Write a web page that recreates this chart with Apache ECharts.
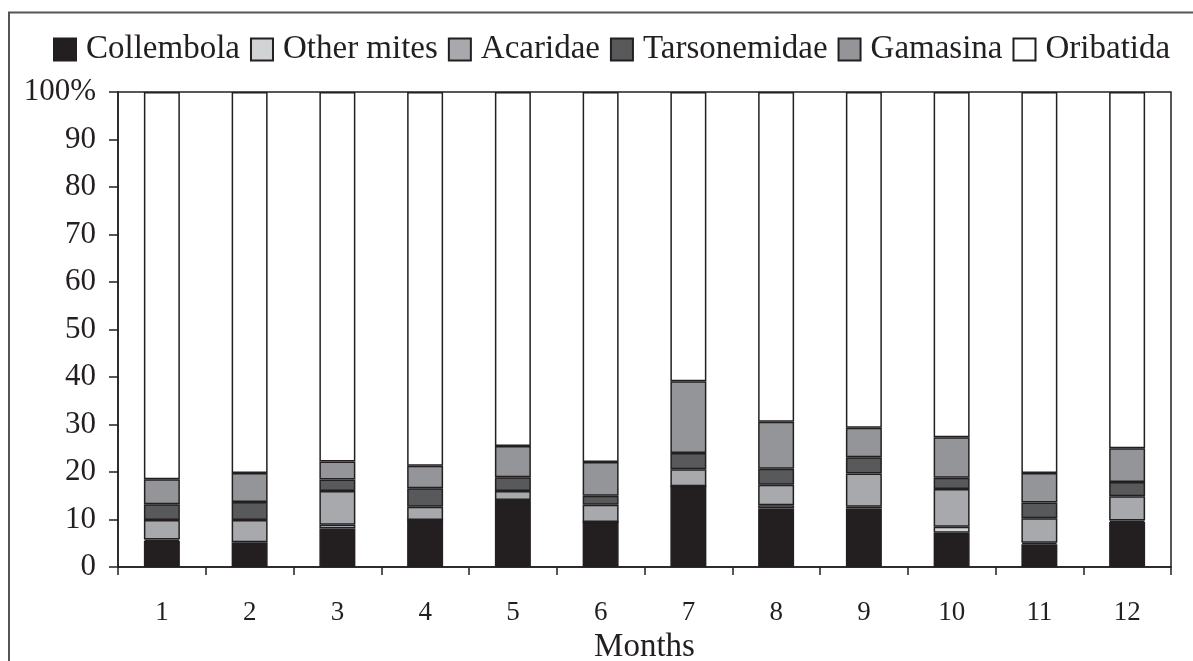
<!DOCTYPE html>
<html>
<head>
<meta charset="utf-8">
<script src="https://cdn.jsdelivr.net/npm/echarts@6/dist/echarts.min.js"></script>
<style>
  html, body { margin: 0; padding: 0; background: #fff; }
  #chart { width: 1193px; height: 661px; }
</style>
</head>
<body>
<div id="chart"></div>
<script>
  const months = ['1', '2', '3', '4', '5', '6', '7', '8', '9', '10', '11', '12'];
  const collembola = [5.5, 4.85, 8.1, 9.9, 13.7, 9.5, 17.0, 12.3, 12.3, 7.2, 4.8, 9.5];
  const otherMites = [0.3, 0.35, 0.8, 0, 0.4, 0, 0, 0.7, 0.4, 1.3, 0.3, 0.3];
  const acaridae = [4.1, 4.7, 7.1, 2.8, 1.9, 3.6, 3.6, 4.3, 7.0, 7.9, 5.15, 5.1];
  const tarsonemidae = [3.3, 3.8, 2.4, 3.9, 2.9, 1.9, 3.4, 3.4, 3.4, 2.4, 3.35, 3.0];
  const gamasina = [5.3, 6.1, 3.8, 4.7, 6.6, 7.1, 15.1, 9.9, 6.2, 8.5, 6.2, 7.1];
  const oribatida = [81.5, 80.2, 77.8, 78.7, 74.5, 77.9, 60.9, 69.4, 70.7, 72.7, 80.2, 75.0];
  const yTicks = [0, 10, 20, 30, 40, 50, 60, 70, 80, 90, 100];

  const ink = '#231f20';
  const serif = "'Liberation Serif', 'Times New Roman', serif";

  let myChart = echarts.init(document.getElementById('chart'));

  // one stacked bar series per group
  function stackSeries(name, data, color) {
    return {
      name: name,
      type: 'bar',
      stack: 'total',
      data: data,
      barWidth: '41%',
      itemStyle: {
        color: color,
        borderColor: ink,
        borderWidth: 1.5
      }
    };
  }

  myChart.setOption({
    animation: false,
    backgroundColor: '#fff',
    graphic: [{
      type: 'rect',
      shape: { x: 9, y: 12.5, width: 1300, height: 800 },
      style: { fill: 'none', stroke: '#555', lineWidth: 2 },
      silent: true
    }],
    legend: {
      left: 48,
      top: 28,
      icon: 'rect',
      itemWidth: 22,
      itemHeight: 22,
      itemGap: 10,
      textStyle: {
        fontFamily: serif,
        fontSize: 33,
        color: ink,
        padding: [0, 0, 0, 5]
      }
    },
    grid: {
      left: 118,
      right: 22,
      top: 92,
      bottom: 94,
      show: true,
      borderColor: ink,
      borderWidth: 1.5,
      containLabel: false,
      outerBoundsMode: 'none'
    },
    xAxis: {
      type: 'category',
      data: months,
      name: 'Months',
      nameLocation: 'middle',
      nameGap: 53,
      nameTextStyle: { fontFamily: serif, fontSize: 33, color: ink },
      axisLine: { show: true, lineStyle: { color: ink, width: 1.5 } },
      axisTick: { show: true, length: 8, lineStyle: { color: ink, width: 1.5 } },
      axisLabel: { fontFamily: serif, fontSize: 27, color: ink, margin: 32 },
      splitLine: { show: false }
    },
    yAxis: {
      type: 'value',
      min: 0,
      max: 100,
      interval: 10,
      axisLine: { show: true, lineStyle: { color: ink, width: 1.5 } },
      axisTick: { show: true, length: 9, lineStyle: { color: ink, width: 1.5 } },
      axisLabel: {
        fontFamily: serif,
        fontSize: 31,
        color: ink,
        margin: 22,
        formatter: function (v) {
          return v === yTicks[yTicks.length - 1] ? v + '%' : String(v);
        }
      },
      splitLine: { show: false }
    },
    series: [
      stackSeries('Collembola', collembola, ink),
      stackSeries('Other mites', otherMites, '#d1d3d4'),
      stackSeries('Acaridae', acaridae, '#a7a9ac'),
      stackSeries('Tarsonemidae', tarsonemidae, '#58595b'),
      stackSeries('Gamasina', gamasina, '#939598'),
      stackSeries('Oribatida', oribatida, '#ffffff')
    ]
  });

  window.onresize = function () {
    myChart.resize();
  };
</script>
</body>
</html>
